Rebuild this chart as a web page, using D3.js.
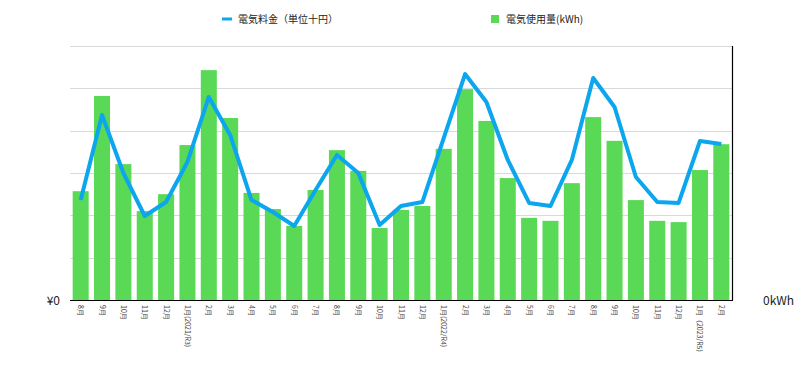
<!DOCTYPE html>
<html>
<head>
<meta charset="utf-8">
<script src="https://cdn.jsdelivr.net/npm/d3@7"></script>
<style>
  body { margin: 0; background: #fff; }
  svg { font-family: "Noto Sans CJK JP", "Noto Sans", sans-serif; }
  .grid { stroke: #d9d9d9; stroke-width: 1; }
</style>
</head>
<body>
<div id="chart"></div>
<script>
var w = 812, h = 367;

// months, Aug 2020 .. Feb 2023
var months = ["8月","9月","10月","11月","12月","1月(2021/R3)","2月","3月","4月","5月","6月","7月",
  "8月","9月","10月","11月","12月","1月(2022/R4)","2月","3月","4月","5月","6月","7月",
  "8月","9月","10月","11月","12月","1月（2023/R5)","2月"];

// 電気使用量 (kWh)
var usage = [257,482,321,210,250,366,543,430,253,215,175,260,
  354,305,170,213,222,357,498,423,288,194,187,276,
  432,376,236,187,184,307,368];

// 電気料金 (単位十円)
var cost = [1181,2185,1500,992,1157,1630,2398,1949,1181,1039,874,1299,
  1713,1500,886,1110,1157,1913,2669,2339,1654,1146,1110,1654,
  2622,2280,1453,1157,1146,1878,1843];

var legendLabels = ["電気料金（単位十円）", "電気使用量(kWh)"];

// plot area (window.top is reserved, so use other names)
var plotL = 70, plotR = 732, plotT = 46, plotB = 300;

var svg = d3.select("#chart").append("svg").attr("width", w).attr("height", h);

var x = d3.scaleBand().domain(d3.range(months.length)).range([plotL, plotR])
  .paddingInner(0.25).paddingOuter(0.125);
var yKwh = d3.scaleLinear().domain([0, 600]).range([plotB, plotT]);
var yYen = d3.scaleLinear().domain([0, 3000]).range([plotB, plotT]);

// gridlines
svg.append("g").selectAll("line").data(yKwh.ticks(6).filter(function(d){ return d > 0; }))
  .enter().append("line").attr("class", "grid")
  .attr("x1", plotL).attr("x2", plotR)
  .attr("y1", function(d){ return Math.round(yKwh(d)) + 0.5; })
  .attr("y2", function(d){ return Math.round(yKwh(d)) + 0.5; });

// bars
svg.append("g").selectAll("rect").data(usage).enter().append("rect")
  .attr("x", function(d, i){ return x(i); })
  .attr("y", function(d){ return yKwh(d); })
  .attr("width", x.bandwidth())
  .attr("height", function(d){ return plotB - yKwh(d); })
  .attr("fill", "#5ad957");

// cost line
var line = d3.line()
  .x(function(d, i){ return x(i) + x.bandwidth() / 2; })
  .y(function(d){ return yYen(d); });
svg.append("path").datum(cost).attr("d", line)
  .attr("fill", "none").attr("stroke", "#0ba6ee").attr("stroke-width", 4)
  .attr("stroke-linejoin", "round");

// axes frame
svg.append("line").attr("x1", plotL).attr("x2", plotR + 1).attr("y1", plotB + 0.5).attr("y2", plotB + 0.5)
  .attr("stroke", "#000").attr("stroke-width", 1.2);
svg.append("line").attr("x1", plotR + 0.5).attr("x2", plotR + 0.5).attr("y1", plotT).attr("y2", plotB)
  .attr("stroke", "#000").attr("stroke-width", 1.2);

// month labels
svg.append("g").selectAll("text").data(months).enter().append("text")
  .attr("transform", function(d, i){ return "translate(" + (x(i) + x.bandwidth() / 2 - 2.5) + "," + (plotB + 5) + ") rotate(90)"; })
  .attr("font-size", 7).attr("fill", "#444")
  .text(function(d){ return d; });

// zero labels
svg.append("text").attr("x", 60).attr("y", plotB + 5).attr("text-anchor", "end")
  .attr("font-size", 12).attr("fill", "#222").text("¥0");
svg.append("text").attr("x", 763).attr("y", plotB + 5)
  .attr("font-size", 12).attr("fill", "#222").text("0kWh");

// legend
svg.append("line").attr("x1", 222).attr("x2", 232).attr("y1", 19).attr("y2", 19)
  .attr("stroke", "#0ba6ee").attr("stroke-width", 3);
svg.append("text").attr("x", 238).attr("y", 22.5).attr("font-size", 10).attr("fill", "#222").text(legendLabels[0]);
svg.append("rect").attr("x", 491).attr("y", 15).attr("width", 8).attr("height", 8).attr("fill", "#5ad957");
svg.append("text").attr("x", 506).attr("y", 22.5).attr("font-size", 10).attr("fill", "#222").text(legendLabels[1]);
</script>
</body>
</html>
